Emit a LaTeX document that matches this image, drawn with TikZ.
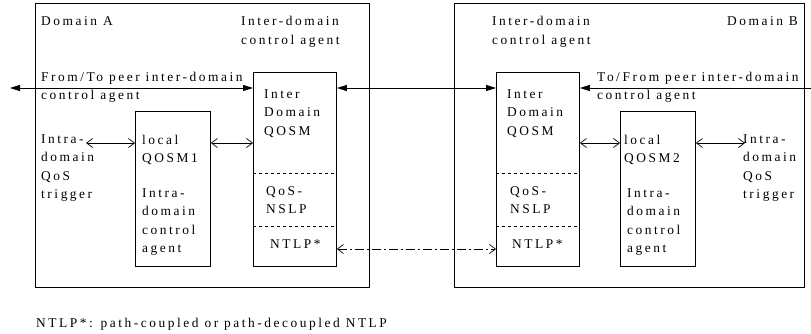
\documentclass[tikz,border=0pt]{standalone}
\usepackage{fontspec}
\setmainfont{Liberation Serif}[LetterSpace=19]
\usetikzlibrary{arrows.meta}

\tikzset{
  box/.style={draw, line width=0.9pt, inner sep=0pt, anchor=north west},
  lbl/.style={anchor=base west, inner sep=0pt, align=left},
  sep/.style={line width=0.7pt, dash pattern=on 3pt off 3pt},
  big/.style={line width=0.9pt, {Triangle[length=10pt,width=6pt]}-{Triangle[length=10pt,width=6pt]}},
  sml/.style={line width=0.7pt, {Straight Barb[length=6pt,width=9pt]}-{Straight Barb[length=6pt,width=9pt]}},
  dd/.style={line width=0.7pt, dash pattern=on 9pt off 3pt on 2pt off 3pt,
    {Straight Barb[length=6pt,width=9pt]}-{Straight Barb[length=6pt,width=9pt]}}
}

\begin{document}
\begin{tikzpicture}[x=1pt, y=-1pt, every node/.style={font=\fontsize{13.4}{18.6}\selectfont}]
	\useasboundingbox (0,0) rectangle (811,334);

	% the two domains
	\node[box, minimum width=334, minimum height=284] (domA) at (35,3) {};
	\node[box, minimum width=350, minimum height=284] (domB) at (454,3) {};

	% agents
	\node[box, minimum width=83, minimum height=194] (iqA) at (253,72) {};
	\node[box, minimum width=75, minimum height=155] (lqA) at (135,111) {};
	\node[box, minimum width=83, minimum height=194] (iqB) at (496,72) {};
	\node[box, minimum width=75, minimum height=155] (lqB) at (620,111) {};
	\foreach \b in {iqA, iqB} {
		\draw[sep] (\b.west |- 0,173) -- (\b.east |- 0,173);
		\draw[sep] (\b.west |- 0,226) -- (\b.east |- 0,226);
	}

	% labels (placed by the baseline of their last line)
	\node[lbl] (domAlab) at (41,26) {Domain A};
	\node[lbl, anchor=base east] (domBlab) at (798,26) {Domain B};
	\node[lbl] (agentA) at (241,44.6) {Inter-domain\\control agent};
	\node[lbl] (agentB) at (492,44.6) {Inter-domain\\control agent};
	\node[lbl] (peerA) at (41,100) {From/To peer inter-domain\\control agent};
	\node[lbl] (peerB) at (597,100) {To/From peer inter-domain\\control agent};
	\node[lbl] (trigA) at (41,198.8) {Intra-\\domain\\QoS\\trigger};
	\node[lbl] (trigB) at (743,198.8) {Intra-\\domain\\QoS\\trigger};
	\node[lbl] (iqAtxt) at (264,135.2) {Inter\\Domain\\QOSM};
	\node[lbl] (iqBtxt) at (507,135.2) {Inter\\Domain\\QOSM};
	\node[lbl] (nsA) at (266,213.6) {QoS-\\NSLP};
	\node[lbl] (nsB) at (510,213.6) {QoS-\\NSLP};
	\node[lbl] (ntA) at (270,248) {NTLP*};
	\node[lbl] (ntB) at (512,248) {NTLP*};
	\node[lbl] (lqAtxt) at (142,162.6) {local\\QOSM1};
	\node[lbl] (lqBtxt) at (624,162.6) {local\\QOSM2};
	\node[lbl] (icA) at (142,252.8) {Intra-\\domain\\control\\agent};
	\node[lbl] (icB) at (627,252.8) {Intra-\\domain\\control\\agent};
	\node[lbl] (note) at (36,327) {NTLP*: path-coupled or path-decoupled NTLP};

	% connectors
	\coordinate (farL) at (10,88);
	\coordinate (farR) at (811,88);
	\coordinate (inA) at (86,143);
	\coordinate (inB) at (745,143);
	\coordinate (ntl) at (0,249);
	\draw[big] (farL) -- (iqA.west |- farL);
	\draw[big] (iqA.east |- farL) -- (iqB.west |- farL);
	\draw[line width=0.9pt, -{Triangle[length=10pt,width=6pt]}] (farR) -- (iqB.east |- farR);
	\draw[sml] (inA) -- (lqA.west |- inA);
	\draw[sml] (lqA.east |- inA) -- (iqA.west |- inA);
	\draw[sml] (iqB.east |- inB) -- (lqB.west |- inB);
	\draw[sml] (lqB.east |- inB) -- (inB);
	\draw[dd] (iqA.east |- ntl) -- (iqB.west |- ntl);
\end{tikzpicture}
\end{document}
